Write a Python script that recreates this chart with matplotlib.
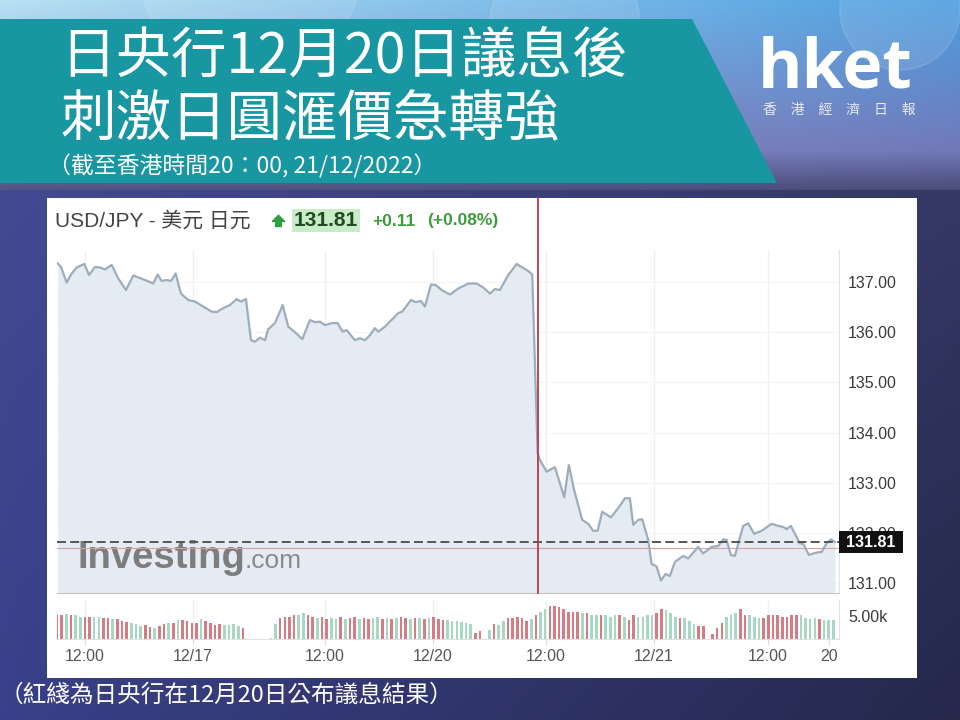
import numpy as np
import matplotlib
matplotlib.use('Agg')
import matplotlib.pyplot as plt
from matplotlib.patches import Polygon, Rectangle, Circle
from matplotlib.transforms import blended_transform_factory

plt.rcParams['font.family'] = ['Liberation Sans', 'Noto Sans CJK TC', 'DejaVu Sans']
CJK = ['Noto Sans CJK TC', 'DejaVu Sans']

# ---- data (hours along the trading axis, USD/JPY price) ----
hours = [0.08, 0.43, 1.04, 1.58, 2.12, 2.94, 3.44, 4.09, 4.62, 5.16,
         5.88, 6.59, 7.42, 8.20, 9.46, 10.35, 10.83, 11.26, 11.80, 12.26,
         12.76, 13.33, 14.12, 14.84, 15.73, 16.63, 17.17, 17.88, 18.60, 19.32,
         19.78, 20.32, 20.86, 21.29, 21.83, 22.37, 22.72, 23.44, 24.27, 24.87,
         25.59, 26.38, 27.20, 27.74, 28.28, 28.82, 29.54, 30.18, 30.72, 31.15,
         32.04, 32.58, 33.12, 33.66, 34.19, 34.55, 35.27, 36.16, 36.70, 37.13,
         38.06, 38.57, 39.14, 39.57, 40.22, 40.72, 41.37, 42.26, 43.15, 44.23,
         45.13, 45.84, 46.56, 47.10, 47.63, 48.53, 49.43, 49.97, 50.68, 51.11,
         51.69, 51.94, 52.66, 53.55, 54.55, 55.05, 55.62, 56.48, 57.13, 57.67,
         58.14, 58.63, 59.57, 60.35, 61.08, 61.61, 61.97, 62.51, 62.94, 63.58,
         63.95, 64.48, 64.95, 65.45, 65.91, 66.45, 67.34, 67.88, 68.96, 69.49,
         70.40, 71.11, 71.65, 72.01, 72.47, 72.90, 73.80, 74.33, 74.98, 75.77,
         76.85, 77.56, 78.20, 78.46, 78.92, 79.89, 80.25, 80.86, 81.51, 82.23,
         82.76, 83.23, 83.66]
prices = [137.37, 137.30, 136.99, 137.17, 137.29, 137.36, 137.14, 137.30, 137.29, 137.25,
          137.34, 137.07, 136.84, 137.13, 137.04, 136.97, 137.15, 137.02, 137.04, 137.02,
          137.17, 136.77, 136.64, 136.61, 136.51, 136.41, 136.40, 136.48, 136.54, 136.66,
          136.61, 136.66, 135.84, 135.81, 135.89, 135.84, 136.06, 136.18, 136.54, 136.11,
          136.00, 135.86, 136.24, 136.20, 136.21, 136.14, 136.18, 136.18, 136.01, 136.04,
          135.84, 135.88, 135.84, 135.94, 136.08, 136.01, 136.11, 136.28, 136.38, 136.41,
          136.64, 136.60, 136.62, 136.51, 136.95, 136.94, 136.84, 136.75, 136.87, 136.97,
          136.97, 136.89, 136.77, 136.86, 136.84, 137.14, 137.36, 137.30, 137.22, 137.15,
          133.59, 133.45, 133.22, 133.31, 132.71, 133.35, 132.85, 132.26, 132.18, 132.04,
          132.04, 132.42, 132.31, 132.49, 132.69, 132.69, 132.16, 132.26, 132.27, 131.86,
          131.38, 131.33, 131.05, 131.18, 131.14, 131.42, 131.54, 131.49, 131.72, 131.59,
          131.72, 131.74, 131.87, 131.86, 131.56, 131.54, 132.14, 132.19, 131.98, 132.04,
          132.18, 132.14, 132.11, 132.07, 132.14, 131.79, 131.78, 131.56, 131.60, 131.62,
          131.79, 131.87, 131.82]

last_price = 131.81
prev_close = 131.70
boj_hour = 51.72

# volume, one bar per 30 minutes (thousands)
volume = [5.2, 5.4, 5.6, 5.4, 5.2, 4.8, 4.8, 4.8, 4.8, 4.9,
          4.6, 4.6, 4.4, 4.4, 4.0, 3.8, 3.6, 3.2, 2.8, 3.0,
          2.6, 2.4, 2.8, 3.3, 3.6, 3.6, 4.1, 4.1, 4.0, 3.6,
          3.6, 4.4, 4.0, 3.6, 3.0, 3.2, 3.0, 3.0, 3.2, 2.8,
          2.5,
          0, 0, 0, 0, 0, 0.3,
          3.2, 4.6, 4.9, 4.9, 5.2, 5.4, 5.7, 5.4, 4.9, 4.6,
          4.9, 4.4, 4.6, 4.4, 4.8, 4.4, 4.6, 4.8, 4.4, 4.6,
          4.4, 4.6, 4.8, 4.4, 4.6, 4.4, 4.6, 4.8, 4.6, 4.4,
          4.6, 4.6, 4.4, 4.6, 4.8,
          4.4, 4.1, 4.1, 4.0, 4.0, 3.8, 3.6, 3.2, 1.4, 1.7,
          0,
          2.0, 3.3, 3.0, 4.0, 4.6, 4.6, 4.9, 4.6, 4.0, 4.4,
          5.2, 6.0, 6.7, 7.3, 7.3, 7.0, 6.7, 6.0, 6.0, 6.0,
          5.7, 5.7, 5.4, 5.2, 5.2, 5.2, 4.9, 5.2, 5.2, 4.8,
          4.1, 5.2, 4.9, 4.9, 5.2, 5.4, 5.7, 6.7, 6.3, 5.7,
          4.9, 4.6, 4.6, 4.0, 3.3, 2.8, 2.8,
          0,
          1.0, 2.4, 3.6, 4.9, 5.4, 5.7, 6.7, 5.4, 5.2, 4.8,
          4.6, 4.6, 5.4, 5.2, 5.4, 4.9, 4.8, 5.2, 5.4, 5.2,
          4.6, 4.4, 4.6, 4.4, 4.2, 4.2, 4.2]
vol_dir = ("rrgrggrrggrrgrrrgggrrgrrgrgrrrrgrrrrggggr"
           "gggggg"
           "grrrrggrrgrrggrgrrgrrggrgrgrrgrgrgr"
           "rrggggggrr" "g" "grggrrrrrg" "rggrrrrrrr" "grggrgggrg"
           "rrggggrrgg" "grgggrr" "g" "rrrgggrrgg" "grrrrrrrrg" "gggrggg")
vol_hours = [0.5 * i for i in range(len(volume))]

tick_hours = [3.01, 14.62, 28.82, 40.43, 52.58, 64.19, 76.45, 83.01]
tick_labels = ['12:00', '12/17', '12:00', '12/20', '12:00', '12/21', '12:00', '20']
price_ticks = [131, 132, 133, 134, 135, 136, 137]

W, H = 960, 720
fig = plt.figure(figsize=(9.6, 7.2), dpi=100)


def fx(x):
    return x / W


def fy(y):
    return 1 - y / H


# ---- background ----
bg = fig.add_axes([0, 0, 1, 1])
bg.set_xlim(0, W)
bg.set_ylim(H, 0)
bg.axis('off')


def rgb(h):
    return np.array(matplotlib.colors.to_rgb(h))


def band(y0, y1, tl, tr, bl, br):
    ys = np.linspace(0, 1, y1 - y0)[:, None, None]
    xs = np.linspace(0, 1, W)[None, :, None]
    top = rgb(tl) * (1 - xs) + rgb(tr) * xs
    bot = rgb(bl) * (1 - xs) + rgb(br) * xs
    return top * (1 - ys) + bot * ys


img = np.concatenate([
    band(0, 150, '#b8e1f3', '#4c9fe0', '#8c90c8', '#7279ba'),
    band(150, 190, '#8c90c8', '#7279ba', '#51547f', '#4a4c78'),
    band(190, 720, '#434a92', '#343864', '#3a4089', '#25284b'),
], axis=0)
bg.imshow(img, extent=(0, W, H, 0), aspect='auto', zorder=0)
for cx, cy, r in [(565, 25, 75), (250, -30, 110), (900, 10, 60)]:
    bg.add_patch(Circle((cx, cy), r, fc='white', ec='white', alpha=0.10, lw=1.5, zorder=0.5))

bg.add_patch(Polygon([(0, 19), (692, 19), (777, 183), (0, 183)], closed=True,
                     fc='#1896a2', ec='none', zorder=1))
bg.add_patch(Rectangle((47, 198), 870, 480, fc='white', ec='none', zorder=1))

bg.text(60, 57, '日央行12月20日議息後', color='white', fontsize=40, va='center',
        family=CJK, zorder=2)
bg.text(60, 121, '刺激日圓滙價急轉強', color='white', fontsize=40, va='center',
        family=CJK, zorder=2)
bg.text(48, 166, '（截至香港時間20：00, 21/12/2022）', color='white', fontsize=16.5,
        va='center', family=CJK, zorder=2)
bg.text(0, 695, '（紅綫為日央行在12月20日公布議息結果）', color='white', fontsize=17,
        va='center', family=CJK, zorder=2)

bg.text(758, 88, 'hket', color='white', fontsize=49, fontweight='bold',
        va='baseline', family='Open Sans', zorder=2)
bg.text(763, 110, '香　港　經　濟　日　報', color='#e8eaf4', fontsize=10,
        va='center', family=CJK, zorder=2)

# chart header
bg.text(55, 221, 'USD/JPY - 美元 日元', fontsize=15, color='#444444', va='center', zorder=2)
arrow = [(-1, 0), (0, 1), (1, 0), (0.45, 0), (0.45, -0.8), (-0.45, -0.8), (-0.45, 0), (-1, 0)]
bg.plot([278], [221], marker=arrow, ms=9, color='#2e9e3e', ls='none', zorder=2)
bg.add_patch(Rectangle((292, 209), 68, 23, fc='#c8ebc8', ec='none', zorder=2))
bg.text(326, 221, '131.81', fontsize=15, fontweight='bold', color='#1f4a24',
        ha='center', va='center', zorder=3)
bg.text(372, 221, '+0.11', fontsize=12.5, fontweight='bold', color='#3c9b3c', va='center', zorder=3)
bg.text(427, 221, '(+0.08%)', fontsize=12.5, fontweight='bold', color='#3c9b3c', va='center', zorder=3)

# ---- price axes ----
ax = fig.add_axes([fx(57), fy(593), (839 - 57) / W, (593 - 250) / H])
ax.set_facecolor('none')
ymin = 137 - (593 - 282) / 50.17
ymax = 137 + (282 - 250) / 50.17
ax.set_xlim(0, 84.1)
ax.set_ylim(ymin, ymax)
for t in tick_hours[:-1]:
    ax.axvline(t, color='#efefef', lw=0.9, zorder=0)
for p in price_ticks:
    ax.axhline(p, color='#f4f4f4', lw=0.9, zorder=0)
ax.fill_between(hours, prices, ymin, color='#e4ebf3', lw=0, zorder=1)
ax.text(77, 568, 'Investing', transform=bg.transData, fontsize=27.5, fontweight='bold',
        color='#7d7d7d', va='baseline', zorder=1.5)
ax.text(245, 568, '.com', transform=bg.transData, fontsize=19, color='#8a8a8a',
        va='baseline', zorder=1.5)
ax.plot(hours, prices, color='#9dadbb', lw=1.6, zorder=3)
ax.axhline(prev_close, color='#d9a0a0', lw=0.8, zorder=2)
ax.axhline(last_price, color='#555555', lw=1.4, ls=(0, (4.6, 2.2)), zorder=4)
ax.axvline(boj_hour, ymin=0, ymax=(593 - 198) / 343, color='#b83a48', lw=1.3,
           clip_on=False, zorder=5)

ax.yaxis.tick_right()
ax.set_yticks(price_ticks)
ax.set_yticklabels([f'{p:.2f}' for p in price_ticks])
ax.tick_params(axis='y', length=0, pad=6.5, labelsize=11.5, labelcolor='#3a3a3a')
ax.set_xticks([])
for s in ['top', 'left']:
    ax.spines[s].set_visible(False)
ax.spines['bottom'].set_color('#c4c4c4')
ax.spines['right'].set_color('#e2e2e2')

# current price tag covers the 132.00 label, as on the source chart
tr = blended_transform_factory(ax.transAxes, ax.transData)
box_h = 22 / 50.17
ax.add_patch(Rectangle((1.0, last_price - box_h / 2), 64 / 782, box_h, transform=tr,
                       fc='#111111', ec='none', clip_on=False, zorder=10))
ax.text(1.0 + 32 / 782, last_price, f'{last_price:.2f}', transform=tr, color='white',
        fontsize=11.5, fontweight='bold', ha='center', va='center', zorder=11)

# ---- volume axes ----
vax = fig.add_axes([fx(57), fy(639), (839 - 57) / W, (639 - 600) / H])
vax.set_facecolor('none')
vax.set_xlim(0, 84.1)
vax.set_ylim(0, 8.6)
for t in tick_hours[:-1]:
    vax.axvline(t, color='#efefef', lw=0.9, zorder=0)
bar_colors = ['#d67c84' if c == 'r' else '#a6d8c2' for c in vol_dir]
vax.bar(vol_hours, volume, width=0.28, color=bar_colors, zorder=2)
vax.yaxis.tick_right()
vax.set_yticks([5])
vax.set_yticklabels(['5.00k'])
vax.tick_params(axis='y', length=0, pad=6.5, labelsize=11.5, labelcolor='#3a3a3a')
vax.set_xticks(tick_hours)
vax.set_xticklabels(tick_labels)
vax.tick_params(axis='x', length=4, color='#dddddd', pad=3, labelsize=11.5, labelcolor='#555555')
for s in ['top', 'left']:
    vax.spines[s].set_visible(False)
vax.spines['bottom'].set_color('#e0e0e0')
vax.spines['right'].set_color('#e2e2e2')

fig.savefig('out.png', dpi=100)
